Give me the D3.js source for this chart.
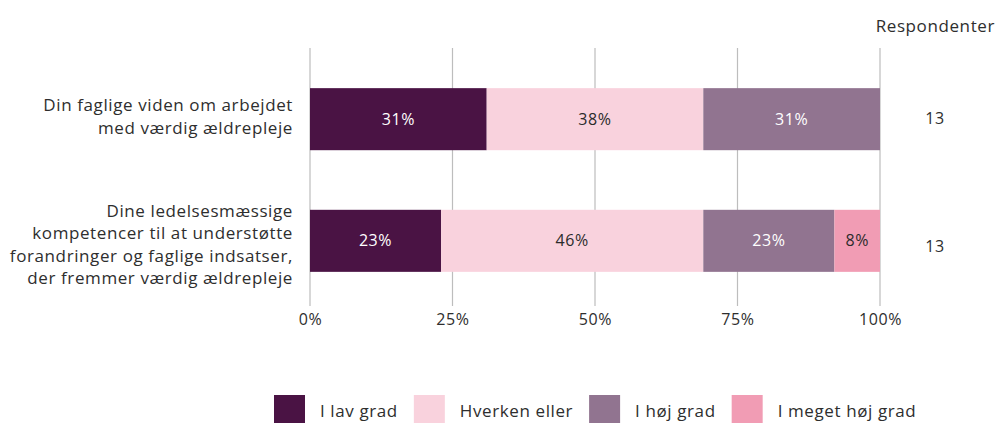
<!DOCTYPE html>
<html>
<head>
<meta charset="utf-8">
<script src="https://cdn.jsdelivr.net/npm/d3@7"></script>
<style>
  html, body { margin: 0; padding: 0; background: #fff; }
  svg { display: block; font-family: "Open Sans", "Lato", sans-serif; }
</style>
</head>
<body>
<svg id="chart" width="998" height="423"></svg>
<script>
// Survey questions (one bar each) and answer categories
const questions = [
  ["Din faglige viden om arbejdet", "med værdig ældrepleje"],
  ["Dine ledelsesmæssige", "kompetencer til at understøtte", "forandringer og faglige indsatser,", "der fremmer værdig ældrepleje"]
];
const categories = ["I lav grad", "Hverken eller", "I høj grad", "I meget høj grad"];
const colors = ["#4a1344", "#f9d2dd", "#917490", "#f19cb4"];
const labelColors = ["#ffffff", "#2b2b2b", "#ffffff", "#2b2b2b"];

// Share of answers (%) per question, in category order
const shares = [
  [31, 38, 31, 0],
  [23, 46, 23, 8]
];
const respondents = [13, 13];
const tickValues = [0, 25, 50, 75, 100];

const svg = d3.select("#chart");
const ink = "#2e2e2e";
const spacing = "0.6px";

const x = d3.scaleLinear().domain([0, 100]).range([310, 880]);
// Rows for the bars
const y = d3.scaleBand()
  .domain(d3.range(questions.length))
  .range([48, 312])
  .paddingInner(0.49)
  .paddingOuter(0.33);
// Rows for the text columns (question labels and respondent counts)
const yText = d3.scaleBand()
  .domain(d3.range(questions.length))
  .range([52.5, 308.5]);

// Vertical grid lines that run down into the tick marks
svg.append("g")
  .selectAll("line")
  .data(tickValues)
  .join("line")
  .attr("x1", d => x(d)).attr("x2", d => x(d))
  .attr("y1", 48).attr("y2", 306)
  .attr("stroke", "#bdbdbd")
  .attr("stroke-width", 1.2);

// X axis labels
const axis = d3.axisBottom(x).tickValues(tickValues).tickFormat(d => d + "%").tickSize(0).tickPadding(0);
const gAxis = svg.append("g").attr("transform", "translate(0,314)").call(axis);
gAxis.select(".domain").remove();
gAxis.selectAll("text")
  .attr("font-family", "Open Sans, sans-serif")
  .attr("font-size", 16)
  .attr("letter-spacing", spacing)
  .attr("fill", ink)
  .attr("dy", "0.71em");

// Stacked segments
const rows = shares.map((vals, i) => {
  let acc = 0;
  return vals.map((v, k) => {
    const seg = { row: i, cat: k, value: v, x0: acc, x1: acc + v };
    acc += v;
    return seg;
  }).filter(s => s.value > 0);
});

const gBars = svg.append("g");
rows.forEach(segs => {
  gBars.selectAll(null)
    .data(segs)
    .join("rect")
    .attr("x", d => x(d.x0))
    .attr("y", d => y(d.row))
    .attr("width", d => x(d.x1) - x(d.x0))
    .attr("height", y.bandwidth())
    .attr("fill", d => colors[d.cat]);

  gBars.selectAll(null)
    .data(segs)
    .join("text")
    .attr("x", d => (x(d.x0) + x(d.x1)) / 2)
    .attr("y", d => y(d.row) + y.bandwidth() / 2)
    .attr("dy", "0.35em")
    .attr("text-anchor", "middle")
    .attr("font-size", 16)
    .attr("letter-spacing", spacing)
    .attr("fill", d => labelColors[d.cat])
    .text(d => d.value + "%");
});

// Question labels, right aligned to the left of the bars
const lineH = 22.5;
questions.forEach((lines, i) => {
  const cy = yText(i) + yText.bandwidth() / 2;
  const t = svg.append("text")
    .attr("text-anchor", "end")
    .attr("font-size", 17)
    .attr("letter-spacing", spacing)
    .attr("fill", ink);
  lines.forEach((ln, j) => {
    t.append("tspan")
      .attr("x", 293)
      .attr("y", cy + (j - (lines.length - 1) / 2) * lineH)
      .attr("dy", "0.35em")
      .text(ln);
  });
});

// Respondent column
svg.append("text")
  .attr("x", 995).attr("y", 26)
  .attr("dy", "0.35em")
  .attr("text-anchor", "end")
  .attr("font-size", 17)
  .attr("letter-spacing", spacing)
  .attr("fill", ink)
  .text("Respondenter");

svg.append("g")
  .selectAll("text")
  .data(respondents)
  .join("text")
  .attr("x", 935)
  .attr("y", (d, i) => yText(i) + yText.bandwidth() / 2 + 1.5)
  .attr("dy", "0.35em")
  .attr("text-anchor", "middle")
  .attr("font-size", 16)
  .attr("letter-spacing", spacing)
  .attr("fill", ink)
  .text(d => d);

// Legend
const legend = svg.append("g").attr("transform", "translate(274,395)");
let lx = 0;
categories.forEach((c, k) => {
  const g = legend.append("g").attr("transform", `translate(${lx},0)`);
  g.append("rect").attr("width", 31).attr("height", 31).attr("fill", colors[k]);
  const t = g.append("text")
    .attr("x", 46).attr("y", 16)
    .attr("dy", "0.35em")
    .attr("font-size", 17)
    .attr("letter-spacing", spacing)
    .attr("fill", ink)
    .text(c);
  lx += 46 + t.node().getComputedTextLength() + 16;
});
</script>
</body>
</html>
